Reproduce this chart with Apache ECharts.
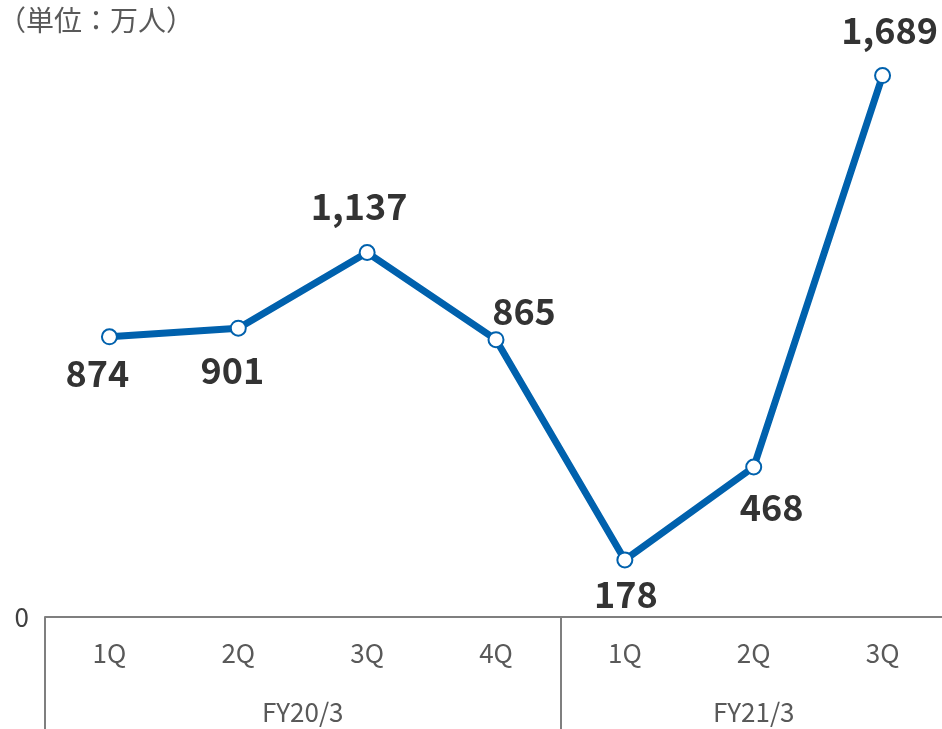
<!DOCTYPE html>
<html>
<head>
<meta charset="utf-8">
<script src="https://cdn.jsdelivr.net/npm/echarts@6/dist/echarts.min.js"></script>
<style>
  html, body { margin: 0; padding: 0; background: #fff; }
  #chart { width: 942px; height: 729px; }
</style>
</head>
<body>
<div id="chart"></div>
<script>
const quarters = ["1Q", "2Q", "3Q", "4Q", "1Q", "2Q", "3Q"];
const visitors = [874, 901, 1137, 865, 178, 468, 1689];
const fiscalYears = ["FY20/3", "FY21/3"];
const fySpans = [4, 3]; // quarters per fiscal year

const font = '"Noto Sans CJK JP", "Noto Sans", sans-serif';

// label placement per point
const labelCfg = [
  { position: "bottom", distance: 10, offset: [-12, 0] },
  { position: "bottom", distance: 16, offset: [-6, 0] },
  { position: "top", distance: 20, offset: [-8, 0] },
  { position: "top", distance: 2, offset: [28, 0] },
  { position: "bottom", distance: 8, offset: [1, 0] },
  { position: "bottom", distance: 14, offset: [18, 0] },
  { position: "top", distance: 19, offset: [7, 0] }
];

// group boundaries and centres on a 0..7 value axis
let acc = 0;
const bounds = [0];
const centres = [];
fySpans.forEach(n => { centres.push(acc + n / 2); acc += n; bounds.push(acc); });

const chart = echarts.init(document.getElementById("chart"));
chart.setOption({
  animation: false,
  textStyle: { fontFamily: font },
  title: {
    text: "（単位：万人）",
    left: -7, top: 1,
    textStyle: { fontFamily: font, fontSize: 28, fontWeight: "normal", color: "#595959" }
  },
  grid: { left: 45, width: 902, top: 40, bottom: 112, containLabel: false, outerBoundsMode: "none" },
  xAxis: [
    {
      type: "category",
      data: quarters,
      boundaryGap: true,
      axisLine: { show: false },
      axisTick: { show: false },
      axisLabel: { margin: 23, fontSize: 26, color: "#595959", fontFamily: font }
    },
    {
      type: "value",
      position: "bottom",
      min: 0, max: acc,
      axisLine: { show: true, onZero: false, lineStyle: { color: "#7f7f7f", width: 2 } },
      axisTick: { show: true, customValues: bounds, length: 112, lineStyle: { color: "#7f7f7f", width: 2 } },
      axisLabel: {
        customValues: centres,
        margin: 82,
        fontSize: 26,
        color: "#595959",
        fontFamily: font,
        formatter: v => fiscalYears[centres.indexOf(v)] || ""
      },
      splitLine: { show: false }
    }
  ],
  yAxis: {
    type: "value",
    min: 0, max: 1800,
    axisLine: { show: false },
    axisTick: { show: false },
    splitLine: { show: false },
    axisLabel: { customValues: [0], margin: 16, fontSize: 26, color: "#404040", fontFamily: font }
  },
  series: [{
    type: "line",
    xAxisIndex: 0,
    data: visitors.map((v, i) => ({ value: v, label: labelCfg[i] })),
    lineStyle: { color: "#0061AD", width: 7 },
    symbol: "circle",
    symbolSize: 15,
    itemStyle: { color: "#fff", borderColor: "#0061AD", borderWidth: 2 },
    label: {
      show: true,
      fontSize: 36,
      fontWeight: "bold",
      color: "#333333",
      fontFamily: font,
      formatter: p => p.value.toLocaleString("en-US")
    },
    z: 3
  }]
});
</script>
</body>
</html>
